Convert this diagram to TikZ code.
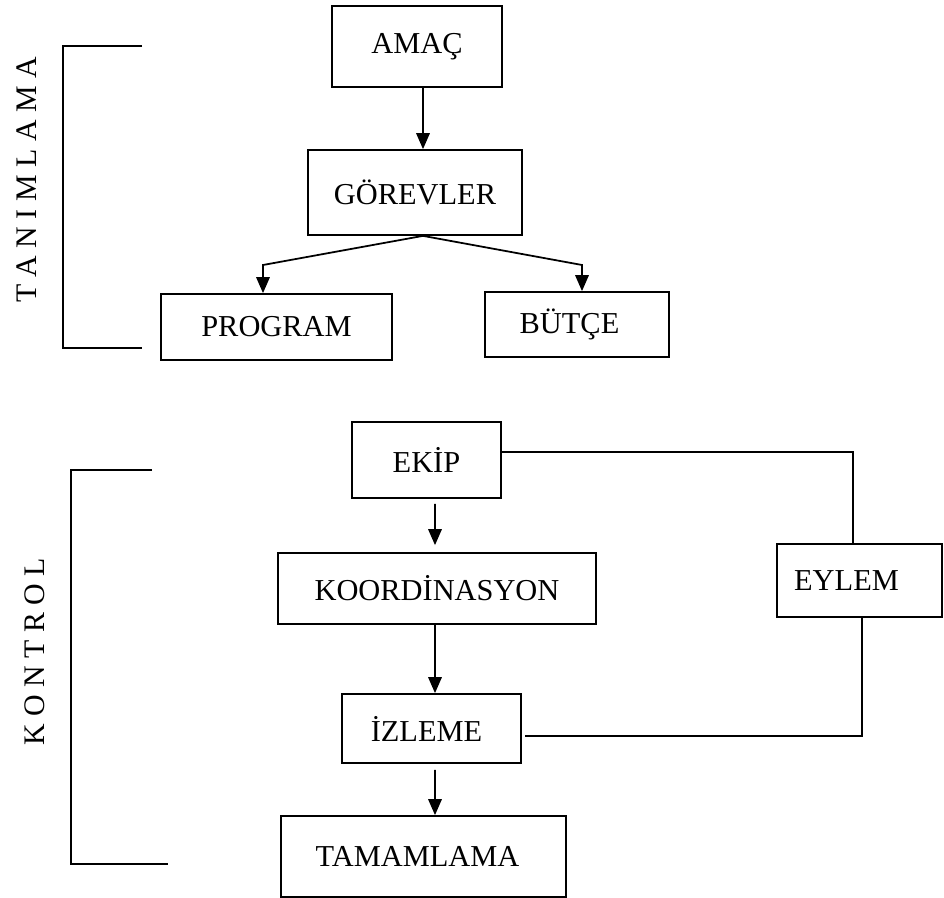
\documentclass[tikz,border=0pt]{standalone}
\usepackage{fontspec}
\setmainfont{Liberation Serif}
\usetikzlibrary{arrows.meta}

\tikzset{
	kutu/.style={draw, line width=1pt, inner sep=0pt, font=\fontsize{17.3}{20}\selectfont},
	yan/.style={rotate=90, font=\fontsize{17}{20}\selectfont}
}

\begin{document}
\begin{tikzpicture}[x=0.02cm, y=-0.02cm, line width=1pt, >={Triangle[length=0.32cm,width=0.27cm]}]
	\useasboundingbox (0,0) rectangle (944,898);
	
	%TANIMLAMA
	\node[kutu, minimum width=3.4cm, minimum height=1.62cm] (amac) at (417,46.5) {AMAÇ};
	\node[kutu, minimum width=4.28cm, minimum height=1.7cm] (gorevler) at (415,192.5) {GÖREVLER};
	\node[kutu, minimum width=4.62cm, minimum height=1.32cm] (program) at (276.5,327) {PROGRAM};
	\node[kutu, minimum width=3.68cm, minimum height=1.3cm] (butce) at (577,324.5) {BÜTÇE\kern0.3cm};
	
	\coordinate (pkose) at (263,265);
	\coordinate (bkose) at (582,265);
	
	\draw[->] ([xshift=0.12cm]amac.south) -- ([xshift=0.16cm]gorevler.north);
	\draw[->] ([xshift=0.16cm]gorevler.south) -- (pkose) -- (pkose |- program.north);
	\draw[->] ([xshift=0.16cm]gorevler.south) -- (bkose) -- (bkose |- butce.north);
	
	\draw (142,46)--(63,46)--(63,348)--(142,348); %bracket
	
	%KONTROL
	\node[kutu, minimum width=2.98cm, minimum height=1.52cm] (ekip) at (426.5,460) {EKİP};
	\node[kutu, minimum width=6.36cm, minimum height=1.42cm] (koord) at (437,588.5) {KOORDİNASYON};
	\node[kutu, minimum width=3.58cm, minimum height=1.38cm] (izleme) at (431.5,728.5) {İZLEME\kern0.2cm};
	\node[kutu, minimum width=5.7cm, minimum height=1.62cm] (tamamlama) at (423.5,856.5) {TAMAMLAMA\kern0.24cm};
	\node[kutu, minimum width=3.3cm, minimum height=1.46cm] (eylem) at (859.5,580.5) {EYLEM\kern0.52cm};
	
	\draw[->] ([xshift=0.17cm,yshift=-0.1cm]ekip.south) -- ([xshift=-0.04cm,yshift=0.14cm]koord.north);
	\draw[->] ([xshift=-0.04cm]koord.south) -- ([xshift=0.07cm]izleme.north);
	\draw[->] ([xshift=0.07cm,yshift=-0.12cm]izleme.south) -- ([xshift=0.23cm]tamamlama.north);
	
	\draw ([yshift=0.16cm]ekip.east) -| ([xshift=-0.13cm]eylem.north);
	\draw ([xshift=0.05cm]eylem.south) |- ([xshift=0.06cm,yshift=-0.15cm]izleme.east);
	
	\draw (152,470)--(71,470)--(71,864)--(168,864); %bracket
	
	%LABELS
	\node[yan] (tanimlama) at (27,180) {T A N I M L A M A};
	\node[yan] (kontrol) at (35,652) {K O N T R O L};
	
\end{tikzpicture}
\end{document}
